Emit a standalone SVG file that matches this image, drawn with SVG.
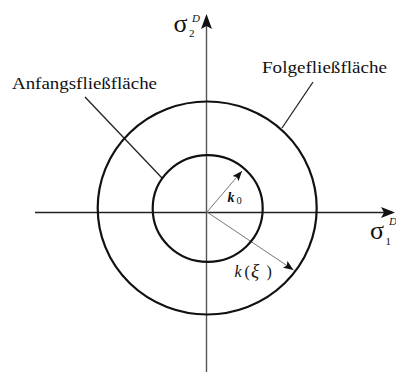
<svg xmlns="http://www.w3.org/2000/svg" width="396" height="372" viewBox="0 0 396 372">
<defs>
<style>
.axis{stroke:#222;stroke-width:1.3;fill:none}
.axisv{stroke:#555;stroke-width:1.4;fill:none}
.circ{stroke:#111;stroke-width:2.2;fill:none}
.lead{stroke:#222;stroke-width:1.3;fill:none}
.rad{stroke:#777;stroke-width:1;fill:none}
.lbl{font-family:"Liberation Serif","Times New Roman",serif;fill:#111}
.it{font-style:italic}
</style>
<marker id="ah" viewBox="0 0 10 8" refX="10" refY="4" markerWidth="10" markerHeight="8" markerUnits="userSpaceOnUse" orient="auto">
<path d="M0,0 L10,4 L0,8 L2,4 Z" fill="#111"/>
</marker>
</defs>
<rect width="396" height="372" fill="#fff"/>
<g id="connectors">
<line class="axis" x1="35" y1="212.5" x2="392" y2="212.5"/>
<path d="M395,212.5 L381,207 L384,212.5 L381,218 Z" fill="#111"/>
<line class="axisv" x1="206.5" y1="372" x2="206.5" y2="18"/>
<path d="M206.5,14 L201,29 L206.5,26 L212,29 Z" fill="#111"/>
<line class="lead" x1="85" y1="97" x2="162" y2="178"/>
<line class="lead" x1="313" y1="82" x2="282" y2="128"/>
<line class="rad" x1="207" y1="212" x2="242" y2="171" marker-end="url(#ah)"/>
<line class="rad" x1="207" y1="212" x2="293.5" y2="270" marker-end="url(#ah)"/>
</g>
<g id="inner">
<ellipse class="circ" cx="207.7" cy="208.5" rx="55" ry="53.3"/>
</g>
<g id="outer">
<ellipse class="circ" cx="207.2" cy="208" rx="109.5" ry="106.5"/>
</g>
<g id="labels">
<text class="lbl" x="12" y="89" font-size="17.5" textLength="145" lengthAdjust="spacingAndGlyphs">Anfangsfließfläche</text>
<text class="lbl" x="262" y="73" font-size="17.5" textLength="125" lengthAdjust="spacingAndGlyphs">Folgefließfläche</text>
<text class="lbl" x="173.5" y="32" font-size="26">σ</text>
<text class="lbl" x="189" y="37" font-size="11">2</text>
<text class="lbl it" x="192" y="22" font-size="11">D</text>
<text class="lbl" x="370" y="239" font-size="26">σ</text>
<text class="lbl" x="385.5" y="245" font-size="11">1</text>
<text class="lbl it" x="389" y="225" font-size="11">D</text>
<text class="lbl it" x="227.5" y="201.5" font-size="14" font-weight="bold">k</text>
<text class="lbl" x="236.5" y="204" font-size="10.5">0</text>
<text class="lbl it" x="234.5" y="276.5" font-size="16">k</text>
<text class="lbl" x="244.5" y="276.5" font-size="16">(</text>
<text class="lbl it" x="251" y="276.5" font-size="19">ξ</text>
<text class="lbl" x="266.5" y="276.5" font-size="16">)</text>
</g>
</svg>
